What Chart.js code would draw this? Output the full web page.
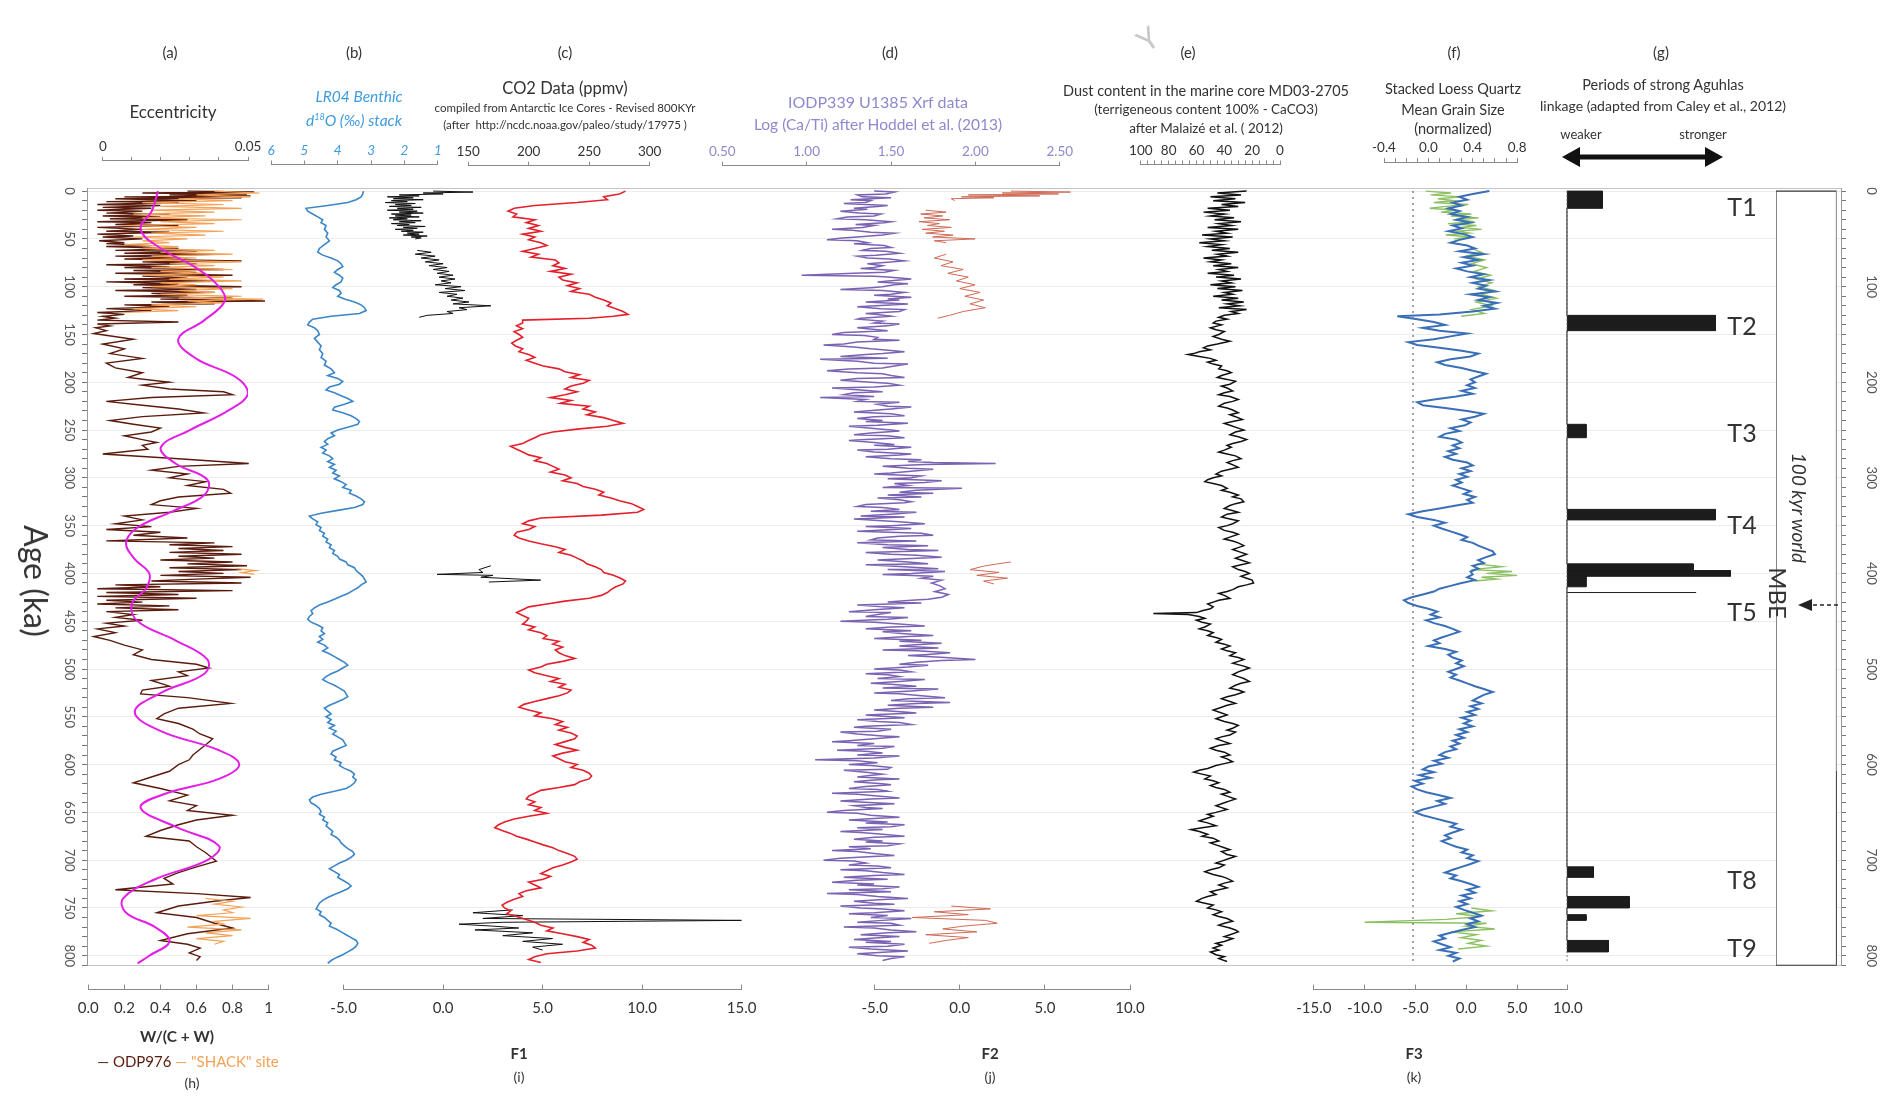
<!DOCTYPE html>
<html><head><meta charset="utf-8">
<script src="https://cdn.jsdelivr.net/npm/chart.js@4/dist/chart.umd.min.js"></script>
<style>
body{margin:0;background:#fff;width:1897px;height:1096px;overflow:hidden;position:relative;font-family:Lato,'Open Sans',sans-serif;color:#333;}
canvas{position:absolute;left:0;top:0;}
.t{position:absolute;transform:translate(-50%,-50%);white-space:nowrap;z-index:5;line-height:1;}
.r{transform:translate(-50%,-50%) rotate(90deg);}
svg{position:absolute;left:0;top:0;z-index:6;}
</style></head><body>
<script>
// ---------------- DATA (age ka, value) ----------------
const eccentricity = [[0,0.019],[20,0.017],[40,0.013],[60,0.020],[80,0.032],[100,0.040],[115,0.042],[135,0.035],[155,0.026],[175,0.032],[195,0.046],[212,0.050],[230,0.043],[250,0.030],[268,0.020],[285,0.025],[302,0.036],[318,0.035],[335,0.024],[352,0.012],[368,0.008],[385,0.011],[400,0.016],[415,0.015],[432,0.010],[450,0.012],[470,0.025],[490,0.036],[505,0.035],[525,0.020],[545,0.011],[565,0.020],[585,0.040],[600,0.047],[615,0.040],[630,0.022],[645,0.013],[665,0.025],[685,0.040],[700,0.036],[720,0.018],[740,0.007],[755,0.008],[770,0.018],[785,0.023],[800,0.016],[808,0.012]];
const odp976 = [[0,0.55],[1,0.92],[2,0.3],[3,0.88],[4,0.45],[5,0.9],[6,0.2],[7,0.85],[8,0.15],[10,0.6],[11,0.1],[12,0.5],[14,0.05],[15,0.4],[17,0.08],[18,0.35],[20,0.05],[21,0.3],[23,0.1],[24,0.45],[26,0.08],[27,0.4],[29,0.12],[30,0.55],[32,0.05],[33,0.35],[35,0.15],[36,0.5],[38,0.05],[40,0.3],[42,0.1],[43,0.45],[45,0.05],[47,0.25],[48,0.08],[50,0.3],[52,0.06],[54,0.2],[55,0.1],[57,0.35],[58,0.1],[60,0.5],[62,0.15],[63,0.6],[65,0.2],[66,0.7],[68,0.15],[70,0.55],[71,0.2],[73,0.85],[74,0.3],[76,0.6],[77,0.1],[79,0.45],[80,0.2],[82,0.75],[83,0.25],[85,0.6],[86,0.15],[88,0.8],[89,0.3],[91,0.55],[92,0.2],[94,0.7],[95,0.1],[97,0.5],[98,0.25],[100,0.85],[101,0.3],[103,0.6],[104,0.15],[106,0.7],[107,0.35],[109,0.55],[110,0.2],[112,0.8],[113,0.4],[115,0.98],[116,0.35],[118,0.7],[119,0.2],[121,0.45],[123,0.1],[125,0.35],[127,0.05],[129,0.2],[131,0.08],[133,0.15],[135,0.05],[137,0.5],[139,0.05],[141,0.12],[143,0.04],[146,0.1],[149,0.03],[155,0.25],[160,0.08],[165,0.2],[170,0.12],[175,0.3],[180,0.1],[185,0.15],[190,0.3],[195,0.22],[200,0.45],[203,0.3],[207,0.45],[210,0.75],[213,0.8],[216,0.35],[220,0.1],[224,0.3],[228,0.5],[232,0.64],[236,0.3],[240,0.12],[244,0.25],[248,0.4],[252,0.35],[256,0.2],[260,0.3],[263,0.38],[266,0.3],[270,0.33],[275,0.08],[280,0.5],[285,0.89],[288,0.5],[292,0.35],[296,0.55],[300,0.45],[304,0.65],[308,0.55],[312,0.75],[316,0.79],[320,0.5],[324,0.4],[328,0.35],[332,0.6],[336,0.45],[340,0.2],[344,0.3],[348,0.15],[351,0.35],[354,0.1],[357,0.4],[360,0.25],[363,0.55],[366,0.1],[368,0.7],[370,0.45],[372,0.8],[374,0.5],[376,0.75],[378,0.45],[380,0.85],[382,0.5],[384,0.7],[386,0.4],[388,0.8],[390,0.55],[392,0.88],[394,0.45],[396,0.85],[398,0.5],[400,0.75],[402,0.4],[404,0.9],[406,0.6],[408,0.35],[410,0.85],[412,0.15],[414,0.4],[416,0.05],[418,0.8],[420,0.1],[422,0.5],[424,0.05],[426,0.6],[428,0.1],[430,0.3],[432,0.05],[434,0.45],[436,0.15],[438,0.5],[440,0.1],[443,0.25],[446,0.15],[449,0.3],[452,0.1],[455,0.2],[458,0.05],[462,0.15],[466,0.03],[470,0.12],[475,0.2],[480,0.3],[485,0.25],[490,0.35],[495,0.6],[499,0.67],[503,0.5],[507,0.55],[512,0.35],[518,0.45],[522,0.3],[526,0.29],[530,0.55],[536,0.79],[541,0.5],[547,0.42],[552,0.38],[557,0.5],[563,0.58],[568,0.62],[573,0.69],[578,0.66],[584,0.62],[590,0.58],[595,0.56],[600,0.5],[607,0.45],[613,0.35],[619,0.25],[625,0.4],[632,0.55],[638,0.45],[643,0.6],[648,0.55],[653,0.8],[658,0.6],[663,0.5],[669,0.4],[675,0.32],[680,0.56],[686,0.6],[692,0.65],[701,0.71],[707,0.6],[713,0.5],[719,0.42],[725,0.47],[731,0.15],[735,0.6],[739,0.9],[743,0.7],[748,0.5],[755,0.38],[760,0.6],[766,0.7],[771,0.8],[777,0.55],[784,0.4],[788,0.55],[792,0.62],[797,0.56],[801,0.62],[805,0.6]];
const shack = [[0,0.7],[2,0.95],[4,0.6],[6,0.9],[8,0.5],[10,0.8],[12,0.3],[14,0.75],[16,0.4],[18,0.85],[20,0.35],[22,0.7],[24,0.25],[26,0.65],[28,0.3],[30,0.85],[32,0.4],[34,0.7],[36,0.2],[38,0.6],[40,0.3],[42,0.75],[44,0.35],[46,0.65],[48,0.25],[50,0.55],[52,0.3],[54,0.45],[56,0.2],[58,0.5],[60,0.3],[62,0.7],[64,0.4],[66,0.8],[68,0.35],[70,0.6],[72,0.3],[74,0.85],[76,0.45],[78,0.7],[80,0.35],[82,0.8],[84,0.4],[86,0.65],[88,0.3],[90,0.75],[92,0.45],[94,0.85],[96,0.4],[98,0.6],[100,0.35],[102,0.8],[104,0.5],[106,0.7],[108,0.4],[110,0.85],[112,0.5],[113,0.97],[115,0.55],[117,0.75],[119,0.35],[121,0.6],[123,0.25],[125,0.5],[127,0.2],null,[395,0.82],[397,0.93],[399,0.85],[401,0.92],null,[740,0.65],[743,0.8],[746,0.7],[749,0.85],[752,0.75],[755,0.8],[758,0.6],[761,0.9],[764,0.7],[767,0.75],[770,0.55],[773,0.85],[776,0.65],[779,0.8],[782,0.6],[785,0.75],[788,0.7]];
const lr04 = [[0,3.23],[3,3.25],[6,3.3],[9,3.45],[12,3.7],[15,4.3],[18,4.95],[21,4.9],[24,4.75],[27,4.6],[30,4.45],[33,4.5],[36,4.35],[40,4.4],[44,4.3],[48,4.35],[52,4.25],[56,4.4],[60,4.55],[64,4.6],[67,4.45],[70,4.2],[73,4.0],[76,3.9],[79,3.85],[82,4.0],[85,4.1],[88,3.95],[91,3.85],[95,3.9],[98,4.05],[101,4.15],[104,3.95],[107,3.9],[110,4.0],[113,3.8],[116,3.5],[119,3.3],[122,3.2],[125,3.15],[128,3.35],[131,4.2],[134,4.75],[137,4.85],[140,4.9],[143,4.7],[146,4.6],[150,4.55],[154,4.7],[158,4.6],[162,4.5],[166,4.55],[170,4.45],[174,4.5],[178,4.35],[182,4.4],[186,4.2],[190,4.1],[193,4.3],[196,4.0],[199,3.85],[202,3.95],[205,4.25],[208,4.35],[211,4.1],[214,3.9],[217,3.7],[220,3.55],[223,3.8],[226,4.1],[229,4.15],[232,3.85],[235,3.6],[238,3.45],[241,3.35],[244,3.4],[247,3.7],[250,4.0],[253,4.2],[256,4.1],[259,4.3],[262,4.4],[265,4.3],[268,4.5],[271,4.35],[274,4.45],[277,4.25],[280,4.15],[283,4.3],[286,4.1],[289,4.25],[292,4.05],[295,4.15],[298,3.95],[301,4.1],[304,3.9],[307,3.75],[310,3.85],[313,3.6],[316,3.65],[319,3.45],[322,3.3],[325,3.2],[328,3.25],[331,3.5],[334,4.0],[337,4.5],[340,4.85],[343,4.75],[346,4.6],[349,4.65],[352,4.5],[355,4.55],[358,4.4],[361,4.45],[364,4.3],[367,4.35],[370,4.2],[373,4.25],[376,4.1],[379,4.15],[382,4.0],[385,3.95],[388,3.75],[391,3.7],[394,3.5],[397,3.45],[400,3.35],[403,3.25],[406,3.2],[409,3.15],[412,3.3],[415,3.4],[418,3.55],[421,3.7],[424,3.9],[427,4.1],[430,4.3],[433,4.55],[436,4.7],[439,4.8],[442,4.75],[445,4.85],[448,4.9],[451,4.8],[454,4.6],[457,4.45],[460,4.5],[463,4.4],[466,4.55],[469,4.45],[472,4.6],[475,4.4],[478,4.3],[481,4.45],[484,4.25],[487,4.1],[490,3.95],[493,3.8],[496,3.7],[499,3.85],[502,4.0],[505,4.2],[508,4.35],[511,4.45],[514,4.3],[517,4.1],[520,3.95],[523,3.8],[526,3.75],[529,3.7],[532,3.85],[535,4.05],[538,4.25],[541,4.4],[544,4.3],[547,4.2],[550,4.35],[553,4.2],[556,4.3],[559,4.1],[562,4.25],[565,4.05],[568,4.15],[571,4.0],[574,3.85],[577,3.8],[580,3.75],[583,3.95],[586,4.15],[589,4.2],[592,4.05],[595,4.1],[598,3.9],[601,3.95],[604,3.8],[607,3.6],[610,3.5],[613,3.55],[616,3.45],[619,3.5],[622,3.6],[625,3.75],[628,4.1],[631,4.5],[634,4.75],[637,4.85],[640,4.8],[643,4.65],[646,4.55],[649,4.5],[652,4.55],[655,4.4],[658,4.45],[661,4.3],[664,4.35],[667,4.25],[670,4.15],[673,4.2],[676,4.05],[679,3.95],[682,3.9],[685,3.8],[688,3.7],[691,3.55],[694,3.5],[697,3.6],[700,3.75],[703,3.95],[706,4.1],[709,4.25],[712,4.1],[715,3.95],[718,4.0],[721,3.85],[724,3.7],[727,3.6],[730,3.7],[733,3.9],[736,4.1],[739,4.3],[742,4.45],[745,4.55],[748,4.6],[751,4.65],[754,4.5],[757,4.55],[760,4.4],[763,4.3],[766,4.2],[769,4.25],[772,4.05],[775,3.9],[778,3.75],[781,3.6],[784,3.45],[787,3.4],[790,3.45],[793,3.55],[796,3.7],[799,3.85],[802,4.05],[805,4.2],[808,4.3]];
const co2 = [[0,280],[3,275],[6,262],[9,265],[12,240],[15,205],[18,188],[21,183],[24,190],[27,187],[30,205],[33,198],[36,208],[39,200],[42,210],[45,195],[48,205],[51,200],[54,210],[57,215],[60,205],[63,195],[66,208],[69,202],[72,222],[75,225],[78,220],[81,230],[84,218],[87,235],[90,225],[93,228],[96,240],[99,232],[102,242],[105,235],[108,250],[111,255],[114,262],[117,268],[120,265],[123,272],[126,278],[129,282],[131,270],[133,250],[135,195],[138,195],[141,190],[144,195],[147,188],[150,192],[153,195],[156,190],[159,186],[162,189],[165,195],[168,192],[171,200],[174,205],[177,198],[180,205],[183,212],[186,225],[189,230],[192,242],[195,235],[198,250],[201,245],[204,235],[207,230],[210,240],[213,230],[216,218],[219,235],[222,226],[225,250],[228,245],[231,255],[234,248],[237,262],[240,270],[243,278],[246,265],[249,240],[252,220],[255,210],[258,205],[261,200],[264,195],[267,185],[270,190],[273,195],[276,200],[279,210],[282,205],[285,215],[288,220],[291,225],[294,218],[297,230],[300,235],[303,228],[306,240],[309,245],[312,255],[315,262],[318,258],[321,268],[324,275],[327,285],[330,290],[333,295],[336,290],[339,260],[342,210],[345,200],[348,195],[351,205],[354,200],[357,190],[360,188],[363,192],[366,200],[369,210],[372,222],[375,230],[378,225],[381,235],[384,240],[387,245],[390,248],[393,255],[396,260],[399,262],[402,270],[405,276],[408,280],[411,278],[414,272],[417,268],[420,265],[423,260],[426,250],[429,230],[432,215],[435,200],[438,195],[441,190],[444,195],[447,200],[450,198],[453,195],[456,205],[459,200],[462,210],[465,215],[468,212],[471,225],[474,220],[477,228],[480,222],[483,225],[486,230],[489,238],[492,228],[495,215],[498,210],[501,200],[504,205],[507,215],[510,225],[513,218],[516,230],[519,225],[522,235],[525,232],[528,225],[531,215],[534,205],[537,196],[540,192],[543,200],[546,210],[549,205],[552,220],[555,228],[558,222],[561,232],[564,225],[567,235],[570,240],[573,238],[576,230],[579,222],[582,230],[585,240],[588,228],[591,220],[594,225],[597,230],[600,240],[603,235],[606,245],[609,250],[612,252],[615,250],[618,242],[621,238],[624,225],[627,210],[630,205],[633,200],[636,198],[639,205],[642,200],[645,210],[648,205],[651,215],[654,200],[657,188],[660,180],[663,175],[666,172],[669,178],[672,185],[675,190],[678,198],[681,205],[684,212],[687,220],[690,225],[693,232],[696,238],[699,240],[702,235],[705,228],[708,220],[711,215],[714,210],[717,218],[720,212],[723,200],[726,205],[729,210],[732,198],[735,192],[738,195],[741,188],[744,182],[747,178],[750,180],[753,185],[756,182],[759,190],[762,198],[765,205],[768,210],[771,220],[774,215],[777,228],[780,240],[783,250],[786,245],[789,252],[792,255],[795,240],[798,215],[801,205],[804,200],[807,210]];
const f1 = [[0,-0.5],[1,1.5],[2,-1.0],[3,0.0],[4,-2.2],[5,-1.2],[6,-2.8],[7,-1.5],[8,-2.5],[9,-1.0],[10,-2.6],[11,-1.8],[12,-2.9],[13,-1.4],[14,-2.4],[15,-1.6],[16,-2.7],[17,-1.1],[18,-2.3],[19,-1.5],[20,-2.8],[21,-1.3],[22,-2.2],[23,-1.0],[24,-2.6],[25,-1.6],[26,-2.4],[27,-1.2],[28,-2.7],[29,-1.8],[30,-2.5],[31,-1.1],[32,-2.2],[33,-1.4],[34,-2.6],[35,-1.7],[36,-2.3],[37,-0.9],[38,-2.0],[39,-1.3],[40,-2.4],[41,-1.5],[42,-2.1],[43,-1.0],[44,-1.8],[45,-1.2],[46,-2.0],[47,-0.8],[48,-1.6],[49,-1.1],[50,-1.4],null,[62,-1.3],[64,-0.6],[66,-1.4],[68,-0.4],[70,-1.1],[72,-0.2],[74,-0.9],[76,0.0],[78,-0.7],[80,0.2],[82,-0.5],[84,0.3],[86,-0.3],[88,0.5],[90,-0.2],[92,0.6],[94,-0.1],[96,0.4],[98,-0.4],[100,0.9],[102,0.1],[104,1.1],[106,-0.2],[108,0.7],[110,0.2],[112,1.0],[114,0.4],[116,1.3],[118,0.5],[120,2.4],[122,0.8],[124,1.2],[126,0.2],[128,0.5],[130,-0.8],[132,-1.2],null,[392,2.4],[396,1.8],[399,2.0],[401,-0.3],[402,2.5],[404,1.9],[407,4.9],[409,2.3],null,[752,3.5],[755,1.5],[758,4.0],[761,2.0],[763,15.0],[765,3.0],[767,0.8],[769,2.5],[771,3.8],[773,1.6],[776,4.5],[779,3.0],[782,5.5],[785,4.0],[788,6.0],[791,4.5],[794,5.0]];
const caTi = [[0,1.40],[1,1.52],[3,1.47],[4,1.30],[6,1.33],[7,1.50],[9,1.26],[10,1.38],[12,1.35],[13,1.22],[15,1.48],[16,1.42],[18,1.28],[19,1.36],[21,1.20],[23,1.31],[24,1.44],[26,1.40],[27,1.24],[29,1.18],[30,1.35],[32,1.50],[33,1.46],[35,1.29],[36,1.40],[38,1.33],[40,1.15],[41,1.27],[43,1.38],[44,1.52],[46,1.45],[48,1.30],[49,1.21],[51,1.12],[52,1.30],[54,1.36],[55,1.28],[57,1.46],[59,1.50],[60,1.38],[62,1.33],[63,1.47],[65,1.55],[67,1.41],[68,1.30],[70,1.36],[71,1.49],[73,1.58],[75,1.44],[76,1.36],[78,1.45],[80,1.40],[81,1.32],[83,1.52],[85,1.46],[86,1.28],[88,0.97],[89,1.40],[90,1.48],[92,1.62],[93,1.55],[95,1.42],[97,1.60],[98,1.52],[100,1.45],[101,1.38],[103,1.20],[104,1.45],[106,1.58],[108,1.50],[109,1.40],[111,1.62],[113,1.48],[114,1.55],[116,1.35],[118,1.60],[119,1.52],[121,1.30],[123,1.44],[124,1.58],[126,1.55],[128,1.35],[129,1.42],[131,1.50],[133,1.32],[134,1.30],[136,1.45],[138,1.40],[139,1.55],[141,1.48],[143,1.30],[144,1.36],[146,1.48],[148,1.22],[150,1.15],[151,1.34],[153,1.42],[155,1.40],[156,1.55],[158,1.30],[160,1.22],[161,1.10],[163,1.28],[165,1.38],[166,1.45],[168,1.58],[170,1.45],[171,1.35],[173,1.20],[175,1.48],[176,1.08],[178,1.30],[180,1.40],[181,1.60],[183,1.52],[185,1.45],[186,1.25],[188,1.12],[190,1.30],[191,1.45],[193,1.50],[195,1.58],[196,1.30],[198,1.20],[200,1.38],[201,1.48],[203,1.55],[205,1.40],[206,1.15],[208,1.32],[210,1.45],[211,1.28],[213,1.22],[215,1.40],[216,1.08],[218,1.35],[220,1.30],[221,1.55],[223,1.42],[225,1.48],[226,1.62],[228,1.50],[230,1.35],[231,1.28],[233,1.50],[235,1.58],[236,1.40],[238,1.30],[240,1.45],[241,1.35],[243,1.60],[245,1.42],[246,1.25],[248,1.38],[250,1.50],[251,1.55],[253,1.38],[255,1.28],[256,1.48],[258,1.58],[260,1.35],[261,1.25],[263,1.40],[265,1.52],[266,1.40],[268,1.62],[270,1.48],[271,1.30],[273,1.40],[275,1.62],[276,1.55],[278,1.35],[280,1.50],[281,1.68],[283,1.60],[284,1.75],[285,2.12],[286,1.70],[288,1.45],[290,1.60],[291,1.75],[293,1.62],[295,1.50],[296,1.40],[298,1.68],[300,1.62],[301,1.48],[303,1.80],[305,1.70],[306,1.52],[308,1.60],[310,1.45],[311,1.92],[313,1.65],[315,1.55],[316,1.75],[318,1.48],[320,1.68],[321,1.42],[323,1.55],[325,1.62],[326,1.58],[328,1.35],[330,1.30],[331,1.45],[333,1.55],[335,1.38],[336,1.65],[338,1.50],[340,1.32],[341,1.58],[343,1.28],[345,1.45],[346,1.55],[348,1.70],[350,1.50],[351,1.35],[353,1.62],[355,1.40],[356,1.30],[358,1.68],[360,1.75],[361,1.55],[363,1.42],[365,1.38],[366,1.65],[368,1.30],[370,1.48],[371,1.72],[373,1.45],[375,1.60],[376,1.78],[378,1.35],[380,1.50],[381,1.65],[383,1.80],[385,1.55],[386,1.42],[388,1.60],[390,1.72],[391,1.35],[393,1.58],[395,1.78],[396,1.48],[398,1.82],[400,1.62],[401,1.45],[403,1.75],[405,1.68],[407,1.80],[410,1.74],[413,1.79],[416,1.82],[419,1.76],[422,1.84],[425,1.80],[427,1.72],[428,1.62],[430,1.48],[431,1.68],[433,1.30],[435,1.45],[436,1.58],[438,1.40],[440,1.25],[441,1.50],[443,1.42],[445,1.35],[446,1.60],[448,1.48],[450,1.20],[451,1.40],[453,1.55],[455,1.70],[456,1.50],[458,1.35],[460,1.62],[461,1.45],[463,1.58],[465,1.75],[466,1.60],[468,1.40],[470,1.68],[471,1.55],[473,1.80],[475,1.62],[476,1.55],[478,1.78],[480,1.45],[481,1.65],[483,1.85],[485,1.70],[486,1.60],[488,1.82],[490,2.00],[491,1.80],[493,1.65],[495,1.55],[496,1.72],[498,1.60],[500,1.40],[501,1.55],[503,1.62],[505,1.35],[506,1.48],[508,1.55],[510,1.42],[511,1.70],[513,1.55],[515,1.38],[516,1.50],[518,1.65],[520,1.45],[521,1.78],[523,1.62],[525,1.40],[526,1.55],[528,1.68],[530,1.82],[531,1.60],[533,1.50],[535,1.85],[536,1.65],[538,1.48],[540,1.75],[541,1.55],[543,1.40],[545,1.58],[546,1.65],[548,1.35],[550,1.50],[551,1.58],[553,1.30],[555,1.42],[556,1.55],[558,1.62],[560,1.35],[561,1.28],[563,1.50],[565,1.42],[566,1.20],[568,1.30],[570,1.45],[571,1.55],[573,1.40],[575,1.25],[576,1.15],[578,1.40],[580,1.30],[581,1.52],[583,1.45],[585,1.18],[586,1.35],[588,1.45],[590,1.30],[591,1.55],[593,1.40],[595,1.05],[596,1.30],[598,1.42],[600,1.25],[601,1.38],[603,1.50],[605,1.48],[606,1.22],[608,1.35],[610,1.45],[611,1.40],[613,1.30],[615,1.55],[616,1.42],[618,1.28],[620,1.45],[621,1.50],[623,1.35],[625,1.25],[626,1.42],[628,1.48],[630,1.15],[631,1.30],[633,1.42],[635,1.55],[636,1.38],[638,1.20],[640,1.40],[641,1.52],[643,1.28],[645,1.35],[646,1.45],[648,1.22],[650,1.12],[651,1.30],[653,1.38],[655,1.55],[656,1.45],[658,1.25],[660,1.48],[661,1.35],[663,1.58],[665,1.50],[666,1.30],[668,1.45],[670,1.20],[671,1.32],[673,1.45],[675,1.58],[676,1.40],[678,1.28],[680,1.45],[681,1.35],[683,1.55],[685,1.48],[686,1.25],[688,1.38],[690,1.15],[691,1.30],[693,1.40],[695,1.52],[696,1.42],[698,1.20],[700,1.10],[701,1.28],[703,1.35],[705,1.25],[706,1.42],[708,1.50],[710,1.20],[711,1.35],[713,1.45],[715,1.58],[716,1.40],[718,1.22],[720,1.48],[721,1.30],[723,1.15],[725,1.40],[726,1.30],[728,1.55],[730,1.45],[731,1.25],[733,1.50],[735,1.12],[736,1.30],[738,1.42],[740,1.60],[741,1.48],[743,1.28],[745,1.40],[746,1.52],[748,1.20],[750,1.32],[751,1.45],[753,1.58],[755,1.40],[756,1.25],[758,1.48],[760,1.38],[761,1.62],[763,1.45],[765,1.30],[766,1.50],[768,1.55],[770,1.22],[771,1.40],[773,1.50],[775,1.65],[776,1.48],[778,1.32],[780,1.55],[781,1.45],[783,1.28],[785,1.50],[786,1.35],[788,1.58],[790,1.48],[791,1.25],[793,1.38],[795,1.60],[796,1.48],[798,1.30],[800,1.42],[801,1.58],[803,1.50],[805,1.45]];
const f2 = [[0,3.0],[1,6.5],[2,2.5],[3,5.8],[4,0.5],[5,4.7],[6,0.1],[7,2.0],[8,-0.5],[10,-0.3],null,[20,-2.0],[22,-0.8],[24,-2.3],[26,-1.0],[28,-2.1],[30,-0.6],[32,-2.4],[34,-1.2],[36,-1.9],[38,-0.5],[40,-2.2],[42,-0.9],[44,-2.0],[46,-0.4],[48,-1.6],[50,0.9],[52,-1.5],[54,-0.8],null,[66,-0.8],[70,-1.5],[74,-0.4],[78,-1.1],[82,0.2],[86,-0.7],[90,0.5],[94,-0.2],[98,0.9],[102,0.0],[106,1.2],[110,0.3],[114,1.4],[118,0.6],[122,1.5],[126,0.2],[130,-0.6],[133,-1.3],null,[388,3.0],[392,1.5],[396,0.6],[399,2.3],[402,1.0],[405,2.8],[408,1.4],[411,2.0],null,[748,-0.5],[751,1.8],[754,-1.5],[757,0.5],[760,-2.8],[763,1.5],[766,2.2],[769,0.2],[772,-1.0],[775,1.0],[778,-2.0],[781,0.5],[784,-0.8],[787,-1.8]];
const dust = [[0,24],[2,45],[4,28],[6,50],[8,32],[10,48],[12,25],[14,42],[16,30],[18,52],[20,36],[22,55],[24,40],[26,50],[28,33],[30,47],[32,28],[34,44],[36,35],[38,52],[40,30],[42,46],[44,38],[46,56],[48,34],[50,50],[52,40],[54,58],[56,42],[58,52],[60,36],[62,49],[64,30],[66,45],[68,38],[70,55],[72,42],[74,50],[76,35],[78,48],[80,30],[82,44],[84,38],[86,52],[88,33],[90,46],[92,28],[94,42],[96,35],[98,50],[100,32],[102,45],[104,27],[106,40],[108,34],[110,48],[112,30],[114,42],[116,26],[118,38],[120,29],[122,44],[124,24],[126,35],[128,30],[130,40],[132,44],[134,38],[136,46],[138,48],[140,42],[143,50],[145,46],[147,40],[150,44],[152,48],[155,42],[157,36],[160,45],[162,52],[164,55],[166,50],[168,58],[170,62],[171,66],[173,58],[175,50],[177,46],[179,52],[181,48],[183,42],[186,44],[188,38],[190,35],[193,42],[195,45],[197,38],[199,32],[202,36],[204,42],[206,38],[209,34],[211,40],[213,44],[215,36],[218,30],[220,34],[222,40],[225,44],[227,38],[229,34],[232,30],[234,36],[236,32],[239,27],[241,34],[243,40],[245,36],[248,30],[250,26],[252,32],[255,36],[257,30],[260,24],[262,28],[264,34],[266,38],[268,35],[271,40],[273,44],[275,38],[277,32],[280,28],[282,34],[284,38],[287,33],[289,30],[291,36],[293,42],[296,46],[298,42],[300,48],[302,52],[304,54],[306,48],[308,42],[311,38],[313,42],[315,36],[318,30],[320,34],[322,28],[325,26],[327,32],[329,36],[332,40],[334,35],[336,30],[338,38],[341,42],[343,36],[345,30],[348,34],[350,38],[352,44],[355,40],[357,34],[359,30],[362,36],[364,40],[366,34],[368,30],[371,26],[373,30],[375,34],[378,28],[380,24],[382,28],[384,32],[387,26],[389,22],[391,28],[393,34],[396,30],[398,25],[400,22],[403,28],[405,24],[407,20],[410,19],[412,24],[414,30],[417,34],[419,38],[421,44],[423,40],[426,36],[428,44],[430,48],[432,52],[435,48],[437,50],[439,56],[441,60],[442,91],[443,66],[445,58],[447,54],[449,60],[451,56],[453,50],[456,54],[458,58],[460,52],[462,48],[465,52],[467,46],[469,42],[472,46],[474,40],[476,36],[479,42],[481,38],[483,32],[486,36],[488,30],[490,26],[492,30],[494,34],[497,26],[499,22],[501,26],[503,30],[506,34],[508,30],[510,26],[513,22],[515,28],[517,32],[520,36],[522,30],[524,26],[527,32],[529,38],[531,42],[534,36],[536,32],[538,38],[541,44],[543,48],[545,44],[548,38],[550,42],[552,46],[555,40],[557,34],[559,30],[562,34],[564,38],[566,32],[569,36],[571,42],[573,46],[576,40],[578,36],[580,44],[583,50],[585,46],[587,40],[590,36],[592,42],[594,38],[597,34],[599,40],[601,46],[604,52],[606,58],[608,62],[610,56],[612,50],[615,54],[617,48],[619,44],[622,50],[624,46],[626,40],[629,36],[631,42],[633,38],[636,32],[638,36],[640,40],[643,46],[645,42],[647,38],[650,46],[652,52],[654,48],[657,54],[659,58],[661,52],[664,46],[666,56],[668,64],[670,58],[673,52],[675,56],[677,48],[680,44],[682,50],[684,46],[687,40],[689,36],[691,42],[694,38],[696,32],[698,36],[701,42],[703,46],[705,40],[708,44],[710,50],[712,54],[715,48],[717,42],[719,38],[722,34],[724,40],[726,44],[729,38],[731,44],[733,50],[736,46],[738,52],[740,56],[743,60],[745,54],[747,48],[750,52],[752,46],[754,42],[757,48],[759,44],[761,38],[764,34],[766,40],[768,44],[771,36],[773,32],[775,30],[778,36],[780,40],[782,34],[785,40],[787,46],[789,42],[792,48],[794,44],[796,50],[799,46],[801,40],[803,44],[806,38]];
const loess = [[0,0.55],[3,0.40],[6,0.28],[9,0.35],[12,0.22],[15,0.30],[18,0.18],[21,0.28],[24,0.20],[27,0.35],[30,0.25],[33,0.38],[36,0.22],[39,0.30],[42,0.18],[45,0.32],[48,0.40],[51,0.28],[54,0.20],[57,0.35],[60,0.42],[63,0.28],[66,0.50],[69,0.32],[72,0.45],[75,0.30],[78,0.40],[81,0.25],[84,0.35],[87,0.50],[90,0.38],[93,0.55],[96,0.40],[99,0.52],[102,0.45],[105,0.60],[108,0.38],[111,0.55],[114,0.45],[117,0.62],[120,0.50],[123,0.60],[126,0.40],[129,0.10],[131,-0.28],[134,-0.10],[137,0.05],[140,0.15],[143,-0.05],[146,0.10],[149,0.35],[152,0.20],[155,0.05],[158,-0.18],[161,-0.10],[164,0.10],[167,0.30],[170,0.45],[173,0.38],[176,0.20],[179,0.08],[182,0.15],[185,0.30],[188,0.40],[191,0.52],[194,0.45],[197,0.38],[200,0.42],[203,0.35],[206,0.42],[209,0.30],[212,0.40],[215,0.25],[218,0.05],[221,-0.10],[224,-0.05],[227,0.15],[230,0.35],[233,0.50],[236,0.42],[239,0.30],[242,0.38],[245,0.33],[248,0.20],[251,0.28],[254,0.15],[257,0.10],[260,0.25],[263,0.30],[266,0.22],[269,0.28],[272,0.18],[275,0.25],[278,0.15],[281,0.22],[284,0.35],[287,0.40],[290,0.30],[293,0.38],[296,0.28],[299,0.35],[302,0.25],[305,0.30],[308,0.22],[311,0.30],[314,0.38],[317,0.32],[320,0.42],[323,0.35],[326,0.40],[329,0.25],[332,0.10],[335,-0.05],[338,-0.18],[341,-0.10],[344,0.05],[347,0.15],[350,0.05],[353,0.12],[356,0.20],[359,0.28],[362,0.35],[365,0.30],[368,0.40],[371,0.45],[374,0.52],[377,0.58],[380,0.60],[383,0.52],[386,0.45],[389,0.50],[392,0.40],[395,0.45],[398,0.38],[401,0.40],[404,0.35],[407,0.42],[410,0.30],[413,0.20],[416,0.10],[419,0.05],[422,-0.05],[425,-0.15],[428,-0.22],[431,-0.18],[434,-0.10],[437,0.00],[440,0.08],[443,0.02],[446,0.10],[449,-0.02],[452,0.05],[455,0.15],[458,0.22],[461,0.28],[464,0.20],[467,0.12],[470,0.05],[473,0.10],[476,0.00],[479,0.15],[482,0.25],[485,0.18],[488,0.22],[491,0.30],[494,0.25],[497,0.32],[500,0.25],[503,0.18],[506,0.25],[509,0.20],[512,0.28],[515,0.35],[518,0.42],[521,0.50],[524,0.58],[527,0.50],[530,0.45],[533,0.40],[536,0.48],[539,0.38],[542,0.45],[545,0.35],[548,0.42],[551,0.30],[554,0.38],[557,0.32],[560,0.40],[563,0.28],[566,0.35],[569,0.25],[572,0.32],[575,0.22],[578,0.28],[581,0.20],[584,0.25],[587,0.15],[590,0.10],[593,0.18],[596,0.05],[599,0.12],[602,0.00],[605,-0.05],[608,0.05],[611,-0.08],[614,0.02],[617,-0.12],[620,-0.05],[623,-0.15],[626,-0.10],[629,-0.02],[632,0.10],[635,0.20],[638,0.08],[641,0.15],[644,0.05],[647,-0.05],[650,-0.12],[653,-0.05],[656,0.05],[659,0.15],[662,0.25],[665,0.20],[668,0.30],[671,0.22],[674,0.15],[677,0.20],[680,0.12],[683,0.18],[686,0.25],[689,0.35],[692,0.30],[695,0.40],[698,0.35],[701,0.45],[704,0.38],[707,0.30],[710,0.22],[713,0.15],[716,0.25],[719,0.20],[722,0.30],[725,0.38],[728,0.45],[731,0.35],[734,0.42],[737,0.30],[740,0.38],[743,0.28],[746,0.35],[749,0.25],[752,0.32],[755,0.40],[758,0.48],[761,0.38],[764,0.45],[767,0.35],[770,0.42],[773,0.30],[776,0.20],[779,0.10],[782,0.15],[785,0.05],[788,0.12],[791,0.20],[794,0.10],[797,0.25],[800,0.18],[803,0.28],[806,0.22]];
const f3 = [[0,-4.0],[2,-1.5],[4,-3.5],[6,-0.5],[8,-2.8],[10,-1.2],[12,-3.2],[14,0.2],[16,-2.0],[18,-3.6],[20,-1.0],[22,-2.5],[24,0.5],[26,-1.5],[28,1.2],[30,-0.8],[32,0.8],[34,-1.8],[36,1.0],[38,-0.5],[40,1.5],[42,-1.0],[44,0.3],[46,-2.0],[48,0.6],[50,-1.2],null,[60,0.5],[64,1.5],[68,0.0],[72,1.8],[76,0.5],[80,2.0],[84,0.8],[88,2.4],[92,1.0],[96,2.5],[100,1.2],[104,2.8],[108,1.5],[112,3.0],[116,1.0],[120,2.5],[124,0.5],[128,1.8],[131,-0.5],null,[390,1.0],[393,3.5],[396,0.5],[398,4.5],[400,2.0],[402,5.0],[404,1.5],[406,3.0],[408,0.8],null,[750,0.5],[753,2.5],[756,-1.0],[759,1.5],[762,-2.0],[765,-10.0],[766,2.0],[769,0.0],[772,2.8],[775,-1.5],[778,1.0],[781,-0.5],[784,1.5],[787,0.2],[790,2.0],[793,-0.8]];
// Agulhas leakage periods: [fromAge, toAge, strength(0..1)]
const aghulasBars = [[0,18,0.24],[130,146,1.0],[244,258,0.13],[333,344,1.0],[390,397,0.85],[397,403,1.1],[403,414,0.13],[707,718,0.18],[738,750,0.42],[757,763,0.13],[784,796,0.28]];
const aghulasLine = [[420,0],[420,0.87]];
const boxOutline = [[0,0],[0,1],[810,1],[810,0],[0,0]];
const mptBox = [[607,0],[607,1],[810,1],[810,0]];
const tLabels = [['T1',16],['T2',140],['T3',252],['T4',348],['T5',439],['T8',720],['T9',791]];

// ---------------- LAYOUT ----------------
const W=1897,H=1096, Y0=191.1, PPK=0.9558, AH=34;
const ageAt = px => (px-Y0)/PPK;
const pxAt = a => Y0 + a*PPK;
const PT = 188.7, PB = 965.4; // plot frame
Chart.defaults.font.family = "Lato, 'Open Sans', sans-serif";
Chart.defaults.color = '#333';

function mk(cfg){const c=document.createElement('canvas');c.width=W;c.height=H;document.body.appendChild(c);
  cfg.options=Object.assign({animation:false,responsive:false,events:[],plugins:{legend:{display:false},tooltip:{enabled:false}}},cfg.options);
  return new Chart(c,cfg);}
const pts = arr => arr.map(p => p ? {x:p[1], y:p[0]} : {x:null, y:null});
function ds(arr,color,w,extra){return Object.assign({data:pts(arr),borderColor:color,borderWidth:w,pointRadius:0,tension:0,fill:false,spanGaps:false},extra||{});}

function xAxis(o){
  if(!o.show) return {type:'linear',display:false,min:o.min,max:o.max,reverse:!!o.reverse};
  const bottom = o.pos==='bottom';
  return {type:'linear',display:true,position:o.pos,min:o.min,max:o.max,reverse:!!o.reverse,
    afterFit:s=>{s.height=AH;},
    border:{display:true,color:'#8a8a8a',width:1},
    grid:{display:true,drawOnChartArea:false,drawTicks:true,tickLength:bottom?-5:4,color:'#8a8a8a',tickColor:'#8a8a8a'},
    ticks:{stepSize:o.step,autoSkip:false,maxRotation:0,minRotation:0,includeBounds:false,padding:bottom?o.pad+10:o.pad,
      color:o.color||'#333',font:{size:o.size||14,style:o.italic?'italic':'normal'},callback:o.fmt}};
}
function panel(o){
  const top = (o.show && o.pos==='top') ? o.T-AH : o.T;
  const bot = (o.show && o.pos==='bottom') ? H-o.B-AH : H-o.B;
  return mk({type:'line',data:{datasets:o.datasets},options:{
    layout:{padding:{left:o.L,right:W-o.R,top:top,bottom:bot}},
    scales:{x:xAxis(o),y:{type:'linear',display:false,reverse:true,min:ageAt(o.T),max:ageAt(o.B)}}}});
}

// frame: age axes + gridlines + borders
const LW=45, RW=50;
mk({type:'line',data:{datasets:[]},options:{
  layout:{padding:{left:87-LW,right:W-1841-RW,top:PT,bottom:H-PB}},
  scales:{
    x:{type:'linear',min:0,max:1,position:'top',afterFit:s=>{s.height=0;},ticks:{display:false},grid:{display:false},border:{color:'#c4c4c4'}},
    x2:{type:'linear',min:0,max:1,position:'bottom',afterFit:s=>{s.height=0;},ticks:{display:false},grid:{display:false},border:{color:'#c4c4c4'}},
    y:{type:'linear',position:'left',reverse:true,min:ageAt(PT),max:ageAt(PB),afterFit:s=>{s.width=LW;},
      border:{color:'#999'},
      grid:{drawOnChartArea:true,tickLength:5,tickColor:'#777',color:c=>(c.tick&&Math.round(c.tick.value)%50===0)?'#ececec':'rgba(0,0,0,0)'},
      ticks:{stepSize:10,autoSkip:false,includeBounds:false,minRotation:-90,maxRotation:-90,crossAlign:'center',padding:2,color:'#555',font:{size:13},
        callback:v=>Math.round(v)%50===0?String(Math.round(v)):''}},
    y2:{type:'linear',position:'right',reverse:true,min:ageAt(PT),max:ageAt(PB),afterFit:s=>{s.width=RW;},
      border:{color:'#999'},
      grid:{drawOnChartArea:false,tickLength:5,tickColor:'#777'},
      ticks:{stepSize:10,autoSkip:false,includeBounds:false,minRotation:-90,maxRotation:-90,crossAlign:'center',padding:14,color:'#555',font:{size:13},
        callback:v=>Math.round(v)%100===0?String(Math.round(v)):''}}
  }}});

const eq=(a,b)=>Math.abs(a-b)<1e-9;
// (h) W/(C+W) bottom axis: ODP976 + SHACK
panel({L:88.3,R:268.6,T:PT,B:989.6,min:0,max:1,show:true,pos:'bottom',step:0.2,pad:5,size:15,
  fmt:v=>eq(v,1)?'1':v.toFixed(1),
  datasets:[ds(shack,'#f4a257',1.2),ds(odp976,'#5a1b0c',1.4)]});
// (a) eccentricity top axis
panel({L:102.8,R:248.0,T:160.9,B:PB,min:0,max:0.05,show:true,pos:'top',step:0.01,pad:2,size:13.5,
  fmt:v=>eq(v,0)?'0':(eq(v,0.05)?'0.05':''),
  datasets:[ds(eccentricity,'#e41ee4',2,{tension:0.4})]});
// (b) LR04
panel({L:271.0,R:437.9,T:164.5,B:PB,min:1,max:6,reverse:true,show:true,pos:'top',step:1,pad:2,size:13.5,color:'#3f9be0',italic:true,
  fmt:v=>String(v),datasets:[ds(lr04,'#3b86c8',1.6)]});
// (i) F1 bottom axis
panel({L:343.6,R:741.6,T:PT,B:989.6,min:-5,max:15,show:true,pos:'bottom',step:5,pad:5,size:15,
  fmt:v=>v.toFixed(1),datasets:[ds(f1,'#111',1)]});
// (c) CO2
panel({L:468.2,R:649.7,T:165.7,B:PB,min:150,max:300,show:true,pos:'top',step:50,pad:2,size:13.5,
  fmt:v=>String(v),datasets:[ds(co2,'#e3202b',1.6)]});
// (d) Ca/Ti
panel({L:722.3,R:1059.8,T:165.7,B:PB,min:0.5,max:2.5,show:true,pos:'top',step:0.5,pad:2,size:13.5,color:'#8d89cf',
  fmt:v=>v.toFixed(2),datasets:[ds(caTi,'#7b62b3',1.5)]});
// (j) F2
panel({L:874.7,R:1130.0,T:PT,B:989.6,min:-5,max:10,show:true,pos:'bottom',step:5,pad:5,size:15,
  fmt:v=>v.toFixed(1),datasets:[ds(f2,'#cf6a55',1)]});
// (e) dust
panel({L:1140.8,R:1280.0,T:164.5,B:PB,min:0,max:100,reverse:true,show:true,pos:'top',step:5,pad:2,size:13.5,
  fmt:v=>Math.round(v)%20===0?String(Math.round(v)):'',datasets:[ds(dust,'#111',1.5)]});
// (k) F3 + dotted reference
panel({L:1313.8,R:1567.9,T:PT,B:989.6,min:-15,max:10,show:true,pos:'bottom',step:5,pad:5,size:15,
  fmt:v=>v.toFixed(1),datasets:[ds([[0,-5.24],[806,-5.24]],'#666',1.2,{borderDash:[2,4]}),ds(f3,'#8cc063',1.4)]});
// (f) loess
panel({L:1384.0,R:1517.1,T:162.1,B:PB,min:-0.4,max:0.8,show:true,pos:'top',step:0.1,pad:2,size:13.5,
  fmt:v=>{const k=v/0.4;return Math.abs(k-Math.round(k))<1e-6?(Math.abs(v)<1e-9?'0.0':v.toFixed(1)):'';},
  datasets:[ds(loess,'#3a6fb7',2)]});
// (g) Agulhas bars
const barPoly=[];aghulasBars.forEach(b=>{barPoly.push([b[0],0],[b[0],b[2]],[b[1],b[2]],[b[1],0]);});
panel({L:1566.7,R:1566.7+1.2*148.8,T:PT,B:PB,min:0,max:1.2,show:false,
  datasets:[ds([[0,0],[806,0]],'#555',1.5,{borderDash:[2,2]}),
    ds(barPoly,'#1c1c1c',1,{fill:'shape',backgroundColor:'#1c1c1c'}),
    ds(aghulasLine,'#1c1c1c',1)]});
// box + MPT
panel({L:1776,R:1836.5,T:PT,B:PB,min:0,max:1,show:false,
  datasets:[ds(boxOutline,'#333',1.2,{fill:'shape',backgroundColor:'#ffffff'}),
    ds(mptBox,'#1c1c1c',1,{fill:'shape',backgroundColor:'#1c1c1c'})]});

// ---------------- TEXT ----------------
function txt(s,x,y,style,cls){const d=document.createElement('div');d.className='t'+(cls?' '+cls:'');d.style.left=x+'px';d.style.top=y+'px';d.style.cssText+=';'+(style||'');d.innerHTML=s;document.body.appendChild(d);}
[['(a)',170],['(b)',354],['(c)',565],['(d)',890],['(e)',1188],['(f)',1454],['(g)',1661]].forEach(p=>txt(p[0],p[1],52,'font-size:15px'));
txt('Eccentricity',173,111,'font-size:17px');
txt('LR04 Benthic',359,97,'font-size:15.5px;font-style:italic;color:#3f9be0');
txt('d<sup style="font-size:9px">18</sup>O (‰) stack',354,120,'font-size:15.5px;font-style:italic;color:#3f9be0');
txt('CO2 Data (ppmv)',565,88,'font-size:16.5px');
txt('compiled from Antarctic Ice Cores - Revised 800KYr',565,108,'font-size:11.5px');
txt('(after&nbsp; http://ncdc.noaa.gov/paleo/study/17975 )',565,125,'font-size:11.5px');
txt('IODP339 U1385 Xrf data',878,102,'font-size:16px;color:#8d89cf');
txt('Log (Ca/Ti) after Hoddel et al. (2013)',878,125,'font-size:15.5px;color:#8d89cf');
txt('Dust content in the marine core MD03-2705',1206,91,'font-size:14.5px');
txt('(terrigeneous content 100% - CaCO3)',1206,110,'font-size:13.5px');
txt('after Malaizé et al. ( 2012)',1206,129,'font-size:13.5px');
txt('Stacked Loess Quartz',1453,89,'font-size:14.5px');
txt('Mean Grain Size',1453,110,'font-size:14.5px');
txt('(normalized)',1453,129,'font-size:14.5px');
txt('Periods of strong Aguhlas',1663,85,'font-size:14.5px');
txt('linkage (adapted from Caley et al., 2012)',1663,106,'font-size:14px');
txt('weaker',1581,134,'font-size:13px');
txt('stronger',1703,134,'font-size:13px');
txt('W/(C + W)',177,1037,'font-size:15.5px;font-weight:bold');
txt('<span style="color:#5a1b0c">— ODP976</span> <span style="color:#f4a257">— "SHACK" site</span>',188,1061,'font-size:15px');
txt('(h)',192,1083,'font-size:14px');
txt('F1',519,1053,'font-size:15px;font-weight:bold');txt('(i)',519,1077,'font-size:14px');
txt('F2',990,1053,'font-size:15px;font-weight:bold');txt('(j)',990,1077,'font-size:14px');
txt('F3',1414,1053,'font-size:15px;font-weight:bold');txt('(k)',1414,1077,'font-size:14px');
txt('Age (ka)',36,581,'font-size:32px;color:#333','r');
tLabels.forEach(t=>txt(t[0],1742,pxAt(t[1]),'font-size:25px;color:#333'));
txt('100 kyr world',1799,508,'font-size:19px;font-style:italic','r');
txt('MBE',1778,593,'font-size:24px','r');
txt('MPT',1805,871,'font-size:38px;color:#fff','r');
txt('Y',1147,38,'font-size:30px;color:#c8c8c8;transform:translate(-50%,-50%) rotate(-35deg)');
</script>
<svg width="1897" height="1096">
  <line x1="1578" y1="157" x2="1708" y2="157" stroke="#111" stroke-width="5"/>
  <polygon points="1562,157 1580,147 1580,167" fill="#111"/>
  <polygon points="1723,157 1705,147 1705,167" fill="#111"/>
  <line x1="1838" y1="605" x2="1810" y2="605" stroke="#222" stroke-width="1.6" stroke-dasharray="4,3"/>
  <polygon points="1798,605 1812,599 1812,611" fill="#222"/>
</svg>
</body></html>
